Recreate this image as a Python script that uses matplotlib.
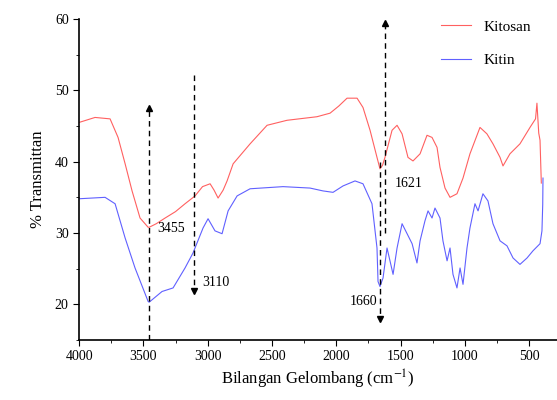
import matplotlib
matplotlib.use("Agg")
import matplotlib.pyplot as plt
from matplotlib.ticker import MultipleLocator

# Spektrum FTIR, nilai
kitosan_wn = [4000, 3876, 3759, 3697, 3642, 3588, 3526, 3463, 3455, 3400, 3331, 3250,
              3176, 3098, 3040, 2981, 2950, 2919, 2880, 2849, 2802, 2670, 2538, 2383,
              2150, 2048, 1980, 1916, 1838, 1792, 1737, 1683, 1660, 1640, 1621, 1566,
              1527, 1488, 1442, 1403, 1348, 1294, 1255, 1216, 1193, 1154, 1115, 1061,
              1014, 960, 882, 828, 781, 726, 703, 649, 571, 493, 450, 439, 425, 415, 405]
kitosan_t = [45.5, 46.2, 46.0, 43.4, 39.7, 35.9, 32.1, 30.8, 30.8, 31.3, 32.1, 33.0,
             34.1, 35.2, 36.5, 36.9, 36.0, 34.9, 36.0, 37.3, 39.7, 42.5, 45.1, 45.8,
             46.3, 46.8, 47.8, 48.9, 48.9, 47.6, 44.4, 40.6, 39.0, 39.5, 40.6, 44.4,
             45.1, 43.9, 40.6, 40.1, 41.1, 43.7, 43.4, 42.0, 39.2, 36.3, 35.0, 35.5,
             37.7, 41.1, 44.8, 43.9, 42.5, 40.6, 39.4, 41.1, 42.5, 44.8, 46.0, 48.2,
             44.0, 43.0, 37.0]

kitin_wn = [4000, 3798, 3720, 3642, 3565, 3463, 3455, 3355, 3269, 3176, 3114, 3036,
            2997, 2943, 2888, 2841, 2771, 2670, 2414, 2204, 2103, 2025, 1947, 1854,
            1792, 1722, 1683, 1675, 1660, 1636, 1605, 1582, 1558, 1527, 1488, 1449,
            1410, 1372, 1348, 1310, 1286, 1255, 1232, 1193, 1170, 1138, 1115, 1092,
            1061, 1037, 1014, 983, 960, 921, 897, 859, 820, 781, 726, 672, 625, 571,
            516, 470, 415, 400, 394, 392]
kitin_t = [34.8, 35.0, 34.1, 29.3, 25.1, 20.4, 20.3, 21.8, 22.3, 25.1, 27.2, 30.7,
           32.0, 30.3, 29.9, 33.1, 35.2, 36.2, 36.5, 36.3, 35.9, 35.7, 36.6, 37.3,
           36.9, 34.1, 27.9, 23.2, 22.5, 23.7, 27.9, 26.1, 24.2, 27.9, 31.3, 29.9,
           28.5, 25.8, 28.9, 31.7, 33.1, 32.1, 33.5, 32.1, 28.9, 26.1, 27.9, 24.2,
           22.3, 25.1, 22.8, 27.9, 30.7, 34.1, 33.1, 35.5, 34.5, 31.3, 28.9, 28.2,
           26.5, 25.6, 26.5, 27.5, 28.5, 30.3, 34.0, 37.7]

# Penanda puncak: posisi, awal garis, ujung panah, label
puncak_wn = [3455, 3110, 1660, 1621]
garis_awal = [15.0, 52.1, 40.0, 30.0]
garis_ujung = [47.5, 21.8, 17.9, 59.4]
label_teks = ["3455", "3110", "1660", "1621"]
label_x = [3390, 3044, 1680, 1543]
label_y = [30.7, 23.1, 20.4, 36.9]
label_ha = ["left", "left", "right", "left"]

plt.rcParams["font.family"] = ["Liberation Serif", "DejaVu Serif"]
plt.rcParams["mathtext.fontset"] = "stix"

fig = plt.figure(figsize=(5.57, 4.0), dpi=100)
ax = fig.add_axes([0.142, 0.15, 0.858, 0.8025])

ax.plot(kitosan_wn, kitosan_t, color="#ff6060", lw=0.8, label="Kitosan")
ax.plot(kitin_wn, kitin_t, color="#6060ff", lw=0.8, label="Kitin")

for x, y0, y1, teks, tx, ty, ha in zip(puncak_wn, garis_awal, garis_ujung,
                                       label_teks, label_x, label_y, label_ha):
    ax.plot([x, x], [y0, y1], color="k", ls=(0, (4, 3)), lw=1.0)
    mk = "^" if y1 > y0 else "v"
    ax.plot([x], [y1], marker=mk, color="k", ms=5)
    ax.text(tx, ty, teks, ha=ha, va="center", fontsize=10)

ax.set_xlim(4000, 283)
ax.set_ylim(15, 60)
ax.xaxis.set_major_locator(MultipleLocator(500))
ax.xaxis.set_minor_locator(MultipleLocator(250))
ax.yaxis.set_major_locator(MultipleLocator(10))
ax.yaxis.set_minor_locator(MultipleLocator(5))
ax.set_yticks([20, 30, 40, 50, 60])
ax.tick_params(which="major", direction="out", length=4, labelsize=10)
ax.tick_params(which="minor", direction="out", length=2)

ax.spines["top"].set_visible(False)
ax.spines["right"].set_visible(False)
for s in ["left", "bottom"]:
    ax.spines[s].set_linewidth(1.2)

ax.set_xlabel("Bilangan Gelombang (cm$^{-1}$)", fontsize=12, labelpad=3)
ax.set_ylabel("% Transmittan", fontsize=12, labelpad=6)

ax.legend(loc="upper right", bbox_to_anchor=(0.975, 1.04), frameon=False,
          fontsize=11, handlelength=2.0, labelspacing=1.3)

plt.savefig("out.png", dpi=100)
plt.close()
